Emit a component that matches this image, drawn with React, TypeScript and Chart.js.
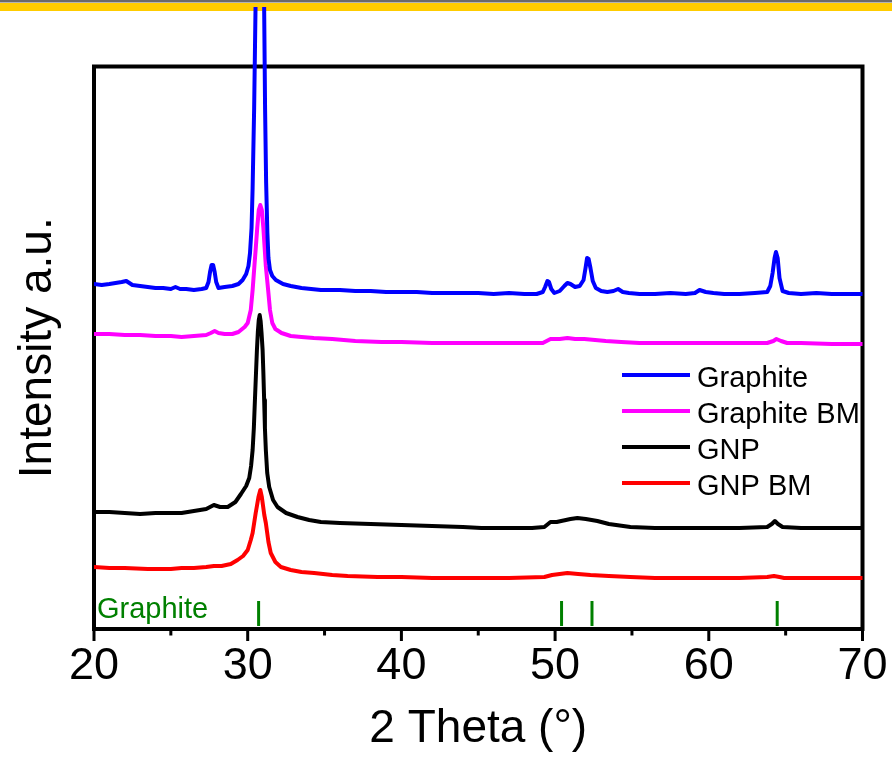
import React, { useEffect, useRef } from 'react';
import { Chart, registerables } from 'chart.js';

Chart.register(...registerables);

const FONT = "'Liberation Sans', Arial, sans-serif";

// ---- Data (2θ in degrees, intensity in arbitrary units) ----
const graphiteX = [20, 20.5, 21, 21.4, 21.8, 22.1, 22.5, 23, 23.5, 24, 24.5, 25, 25.3, 25.6, 26, 26.5, 27, 27.3, 27.45, 27.55, 27.65, 27.75, 27.85, 27.95, 28.1, 28.5, 29, 29.4, 29.67, 29.9, 30.05, 30.15, 30.25, 30.32, 30.42, 30.51, 30.78, 31.07, 31.13, 31.2, 31.28, 31.35, 31.45, 31.6, 31.83, 32.3, 32.8, 33.5, 34.76, 36, 37, 38, 39, 40, 41, 42, 43, 44, 45, 46, 47, 48, 48.8, 49.2, 49.35, 49.5, 49.6, 49.75, 49.95, 50.3, 50.6, 50.8, 51.0, 51.3, 51.6, 51.85, 51.98, 52.08, 52.18, 52.3, 52.45, 52.65, 53.0, 53.4, 53.8, 54.1, 54.4, 54.8, 55.5, 56.5, 57.5, 58.5, 59.1, 59.4, 59.8, 60.3, 61, 62, 63, 63.8, 64.0, 64.15, 64.28, 64.37, 64.48, 64.6, 64.8, 65.2, 66, 67, 68, 69, 70];
const graphiteY = [344, 343, 344, 345, 346, 347, 343, 342, 341, 340, 340, 339, 341, 339, 339, 338, 339, 340, 346, 356, 363, 363, 356, 346, 340, 341, 342, 344, 348, 354, 362, 375, 400, 440, 520, 621, 1500, 621, 520, 445, 395, 370, 358, 352, 348, 344, 342, 340, 338, 338, 337, 337, 336, 336, 336, 335, 335, 335, 335, 334, 335, 334, 334, 336, 341, 347, 346, 339, 335, 337, 342, 345, 344, 341, 342, 348, 360, 370, 369, 360, 347, 340, 337, 336, 337, 339, 336, 335, 334, 334, 335, 334, 335, 338, 336, 335, 334, 334, 335, 336, 342, 355, 370, 376, 370, 350, 337, 335, 334, 335, 334, 334, 334];

const graphiteBmX = [20, 21, 22, 23, 24, 25, 25.7, 26.5, 27.3, 27.6, 27.85, 28.1, 28.5, 29, 29.4, 29.8, 30.0, 30.2, 30.32, 30.45, 30.53, 30.62, 30.72, 30.82, 30.92, 31.02, 31.1, 31.18, 31.33, 31.45, 31.6, 31.8, 32.2, 32.8, 33.5, 34.3, 35.5, 37, 38.7, 40, 42, 44, 46, 48, 49.2, 49.7, 50.3, 50.8, 51.3, 51.9, 52.6, 53.3, 54.3, 55.5, 57, 58.2, 60, 62, 63.8, 64.2, 64.4, 64.7, 65.1, 66, 68, 70];
const graphiteBmY = [294, 294, 293, 293, 292, 292, 291, 292, 293, 295, 297, 295, 294, 294, 296, 301, 305, 318, 338, 365, 381, 400, 418, 423, 418, 400, 381, 362, 338, 318, 305, 299, 295, 292, 291, 290, 289, 287, 286, 286, 285, 285, 285, 285, 285, 289, 289, 290, 289, 289, 288, 287, 286, 285, 285, 285, 285, 285, 285, 287, 289, 287, 285, 285, 284, 284];

const gnpX = [20, 21, 22, 23, 24, 25, 25.7, 26.5, 27.3, 27.8, 28.2, 28.7, 29.2, 29.56, 29.9, 30.1, 30.22, 30.32, 30.4, 30.47, 30.54, 30.6, 30.66, 30.72, 30.78, 30.84, 30.9, 30.97, 31.02, 31.07, 31.12, 31.18, 31.27, 31.4, 31.65, 31.94, 32.5, 33.24, 34, 34.76, 36, 38, 40, 42, 44, 45.2, 47, 48.5, 49.3, 49.7, 50.1, 50.4, 51, 51.45, 52, 52.75, 53.5, 54.9, 56.5, 58.2, 60, 62, 63.8, 64.1, 64.3, 64.5, 64.8, 66, 68, 70];
const gnpY = [116, 116, 115, 114, 115, 115, 115, 117, 119, 123, 121, 121, 126, 134, 142, 150, 162, 178, 200, 228, 255, 278, 296, 308, 313, 307, 295, 278, 255, 228, 200, 178, 155, 141, 128, 121, 115, 111, 108, 106, 105, 104, 103, 102, 101, 100, 100, 100, 101, 106, 106, 107, 109, 110, 109, 107, 104, 101, 100, 100, 100, 100, 101, 104, 107, 104, 101, 100, 100, 100];

const gnpBmX = [20, 21, 22, 23.5, 25, 25.7, 26.5, 27.3, 27.8, 28.3, 28.9, 29.34, 29.7, 30.0, 30.2, 30.32, 30.42, 30.52, 30.6, 30.7, 30.82, 30.92, 31.0, 31.08, 31.18, 31.27, 31.35, 31.5, 31.8, 32.16, 32.8, 33.5, 34.32, 35.5, 36.5, 38.45, 40, 42, 44, 45.2, 47, 49.3, 49.8, 50.3, 50.8, 51.5, 52.3, 53.5, 54.9, 56.5, 58, 60, 62, 63.8, 64.24, 64.6, 64.9, 66, 68, 70];
const gnpBmY = [61, 60, 60, 59, 59, 60, 60, 61, 62, 62, 64, 68, 72, 78, 88, 95, 105, 115, 122, 131, 138, 131, 122, 113, 105, 95, 86, 75, 66, 61, 58, 56, 55, 53, 52, 51, 51, 50, 50, 50, 50, 51, 53, 54, 55, 54, 53, 52, 51, 50, 50, 50, 50, 51, 52, 51, 50, 50, 50, 50];

// Reference (graphite) stick positions
const refLabel = 'Graphite';
const refPositions = [30.71, 50.42, 52.4, 64.45];
const refLow = 2;
const refHigh = 27;

const seriesNames = ['Graphite', 'Graphite BM', 'GNP', 'GNP BM'];
const seriesColors = ['#0000FF', '#FF00FF', '#000000', '#FF0000'];

const xMajorTicks = [20, 30, 40, 50, 60, 70];
const xMinorTicks = [25, 35, 45, 55, 65];

const toPoints = (xs: number[], ys: number[]) => xs.map((x, i) => ({ x, y: ys[i] }));

const decorPlugin = {
  id: 'decor',
  beforeDraw(chart: any) {
    const ctx = chart.ctx;
    ctx.save();
    ctx.fillStyle = '#ffffff';
    ctx.fillRect(0, 0, chart.width, chart.height);
    ctx.fillStyle = '#6a6a6a';
    ctx.fillRect(0, 0, chart.width, 2.5);
    ctx.fillStyle = '#FFCC00';
    ctx.fillRect(0, 3, chart.width, 8);
    ctx.restore();
  },
  beforeDatasetsDraw(chart: any) {
    const ctx = chart.ctx;
    const a = chart.chartArea;
    const xs = chart.scales.x;
    ctx.save();
    ctx.strokeStyle = '#000';
    ctx.lineWidth = 3;
    ctx.beginPath();
    xMajorTicks.forEach((t) => {
      const px = xs.getPixelForValue(t);
      ctx.moveTo(px, a.bottom);
      ctx.lineTo(px, a.bottom + 12);
    });
    xMinorTicks.forEach((t) => {
      const px = xs.getPixelForValue(t);
      ctx.moveTo(px, a.bottom);
      ctx.lineTo(px, a.bottom + 6.5);
    });
    ctx.stroke();
    ctx.lineWidth = 4;
    ctx.strokeRect(a.left, a.top, a.right - a.left, a.bottom - a.top);
    ctx.restore();
  },
  afterDraw(chart: any) {
    const ctx = chart.ctx;
    const a = chart.chartArea;
    ctx.save();
    // reference label
    ctx.fillStyle = '#008000';
    ctx.font = `29px ${FONT}`;
    ctx.textAlign = 'left';
    ctx.textBaseline = 'alphabetic';
    ctx.fillText(refLabel, a.left + 3, 618);
    // legend
    const rows = [375, 411, 447, 483];
    seriesNames.forEach((name, i) => {
      ctx.strokeStyle = seriesColors[i];
      ctx.lineWidth = 4;
      ctx.beginPath();
      ctx.moveTo(622, rows[i]);
      ctx.lineTo(690, rows[i]);
      ctx.stroke();
      ctx.fillStyle = '#000';
      ctx.font = `29px ${FONT}`;
      ctx.fillText(name, 697, rows[i] + 11.5);
    });
    ctx.restore();
  },
};

export default function App() {
  const ref = useRef<HTMLCanvasElement | null>(null);
  useEffect(() => {
    if (!ref.current) return;
    const stickData: any[] = [];
    refPositions.forEach((p) => {
      stickData.push({ x: p, y: refLow }, { x: p, y: refHigh }, { x: p, y: null });
    });
    const seriesData = [
      toPoints(graphiteX, graphiteY),
      toPoints(graphiteBmX, graphiteBmY),
      toPoints(gnpX, gnpY),
      toPoints(gnpBmX, gnpBmY),
    ];
    const chart = new Chart(ref.current, {
      type: 'line',
      data: {
        datasets: [
          ...seriesData.map((d, i) => ({
            label: seriesNames[i],
            data: d,
            borderColor: seriesColors[i],
            backgroundColor: seriesColors[i],
            borderWidth: 4,
            pointRadius: 0,
            tension: 0,
            borderJoinStyle: 'round',
            borderCapStyle: 'round',
            clip: { left: 0, top: 59.5, right: 0, bottom: 0 },
          })),
          {
            label: refLabel,
            data: stickData,
            borderColor: '#008000',
            borderWidth: 3,
            pointRadius: 0,
            spanGaps: false,
          },
        ],
      },
      options: {
        animation: false,
        responsive: false,
        devicePixelRatio: 1,
        layout: { padding: { top: 66.5, right: 29.5, left: 0, bottom: 0 } },
        plugins: { legend: { display: false }, tooltip: { enabled: false } },
        scales: {
          x: {
            type: 'linear',
            min: 20,
            max: 70,
            grid: { display: false, drawTicks: false },
            border: { display: false },
            ticks: {
              stepSize: 10,
              color: '#000',
              padding: 11,
              font: { family: FONT, size: 45 },
              maxRotation: 0,
            },
            title: {
              display: true,
              text: '2 Theta (°)',
              color: '#000',
              font: { family: FONT, size: 46 },
              padding: { top: 0, bottom: 1 },
            },
            afterFit: (s: any) => {
              s.height = 129;
              s.paddingLeft = 0;
              s.paddingRight = 0;
            },
          },
          y: {
            type: 'linear',
            min: -1,
            max: 561.5,
            grid: { display: false, drawTicks: false },
            border: { display: false },
            ticks: { display: false },
            title: {
              display: true,
              text: 'Intensity a.u.',
              color: '#000',
              font: { family: FONT, size: 46 },
              padding: { top: 11, bottom: 0 },
            },
            afterFit: (s: any) => {
              s.width = 94;
            },
          },
        },
      },
      plugins: [decorPlugin],
    } as any);
    return () => chart.destroy();
  }, []);
  return (
    <div style={{ position: 'absolute', left: 0, top: 0, width: 892, height: 758 }}>
      <canvas ref={ref} width={892} height={758} style={{ display: 'block' }} />
    </div>
  );
}
